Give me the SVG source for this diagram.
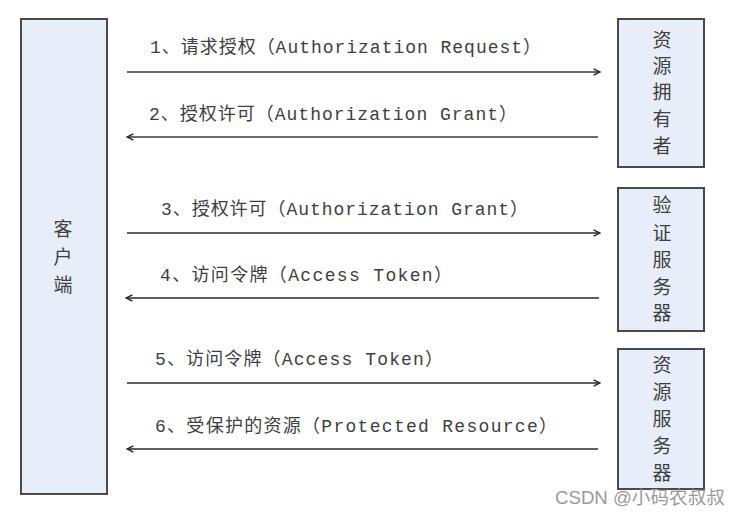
<svg xmlns="http://www.w3.org/2000/svg" width="741" height="516" viewBox="0 0 741 516">
<style>
.box{fill:#e8eef9;stroke:#4a4a4a;stroke-width:2}
.lbl{font-family:"Liberation Mono","Noto Sans CJK SC",monospace;font-size:18px;fill:#404040}
.nt{font-family:"Noto Sans CJK SC",sans-serif;font-size:19px;fill:#404040;text-anchor:middle}
.ln{fill:none;stroke:#2a2a2a;stroke-width:1.6}
.ln.g{stroke:#6a6a6a;stroke-width:2.2}
.wm{font-family:"Liberation Sans","Noto Sans CJK SC",sans-serif;font-size:18px;fill:#9a9a9a}
</style>
<defs>
<marker id="ah" viewBox="0 0 10 10" refX="9" refY="5" markerWidth="8" markerHeight="8" markerUnits="userSpaceOnUse" orient="auto-start-reverse">
<path d="M1,1 L9,5 L1,9" fill="none" stroke="#2a2a2a" stroke-width="1.8"/>
</marker>
</defs>
<rect width="741" height="516" fill="#ffffff"/>
<g id="client">
<rect class="box" x="21" y="19" width="86" height="475"/>
<text class="nt" x="63" y="236">客</text>
<text class="nt" x="63" y="264">户</text>
<text class="nt" x="63" y="292">端</text>
</g>
<g id="resource-owner">
<rect class="box" x="618" y="19" width="86" height="148"/>
<text class="nt" x="662" y="47">资</text>
<text class="nt" x="662" y="73">源</text>
<text class="nt" x="662" y="99">拥</text>
<text class="nt" x="662" y="126">有</text>
<text class="nt" x="662" y="153">者</text>
</g>
<g id="auth-server">
<rect class="box" x="618" y="188" width="86" height="143"/>
<text class="nt" x="662" y="212">验</text>
<text class="nt" x="662" y="240">证</text>
<text class="nt" x="662" y="267">服</text>
<text class="nt" x="662" y="294">务</text>
<text class="nt" x="662" y="320">器</text>
</g>
<g id="resource-server">
<rect class="box" x="618" y="349" width="86" height="140"/>
<text class="nt" x="662" y="372">资</text>
<text class="nt" x="662" y="399">源</text>
<text class="nt" x="662" y="426">服</text>
<text class="nt" x="662" y="453">务</text>
<text class="nt" x="662" y="480">器</text>
</g>
<g id="connectors">
<line class="ln g" x1="127" y1="72" x2="600" y2="72" marker-end="url(#ah)"/>
<line class="ln g" x1="127" y1="137" x2="598" y2="137" marker-start="url(#ah)"/>
<line class="ln" x1="127" y1="233" x2="600" y2="233" marker-end="url(#ah)"/>
<line class="ln" x1="126" y1="298" x2="599" y2="298" marker-start="url(#ah)"/>
<line class="ln" x1="127" y1="383" x2="600" y2="383" marker-end="url(#ah)"/>
<line class="ln" x1="127" y1="449" x2="598" y2="449" marker-start="url(#ah)"/>
<text class="lbl" x="150" y="53" textLength="391" lengthAdjust="spacing">1、请求授权（Authorization Request）</text>
<text class="lbl" x="149" y="120" textLength="368" lengthAdjust="spacing">2、授权许可（Authorization Grant）</text>
<text class="lbl" x="161" y="215" textLength="367" lengthAdjust="spacing">3、授权许可（Authorization Grant）</text>
<text class="lbl" x="160" y="281" textLength="292" lengthAdjust="spacing">4、访问令牌（Access Token）</text>
<text class="lbl" x="155" y="365" textLength="288" lengthAdjust="spacing">5、访问令牌（Access Token）</text>
<text class="lbl" x="155" y="432" textLength="402" lengthAdjust="spacing">6、受保护的资源（Protected Resource）</text>
</g>
<text class="wm" x="555" y="504" textLength="170" lengthAdjust="spacingAndGlyphs">CSDN @小码农叔叔</text>
</svg>
